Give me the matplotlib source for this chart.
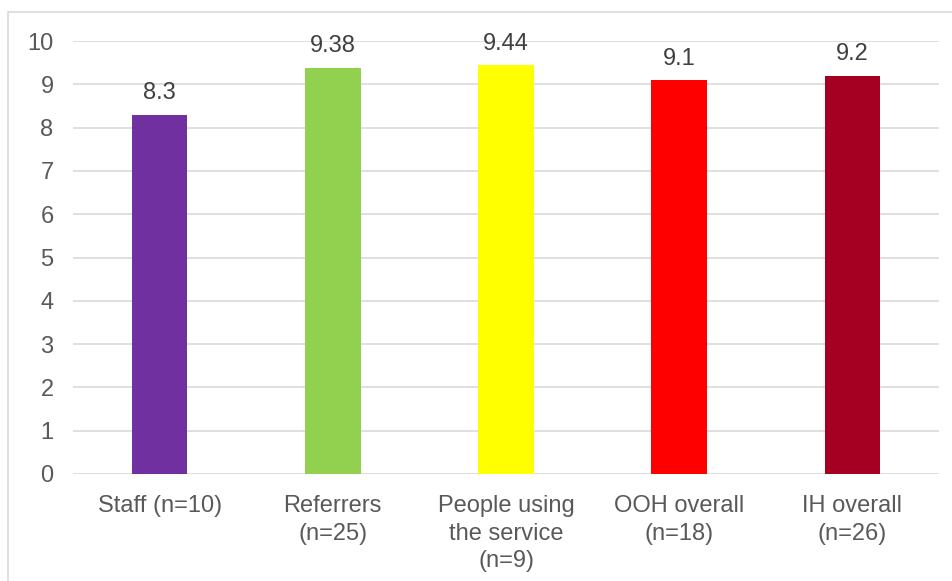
import matplotlib.pyplot as plt
from matplotlib.patches import Rectangle

# datos del gráfico
categorias = ["Staff (n=10)", "Referrers\n(n=25)", "People using\nthe service\n(n=9)",
              "OOH overall\n(n=18)", "IH overall\n(n=26)"]
valores = [8.3, 9.38, 9.44, 9.1, 9.2]
etiquetas = ["8.3", "9.38", "9.44", "9.1", "9.2"]
colores = ["#7030A0", "#92D050", "#FFFF00", "#FF0000", "#A50021"]

plt.rcParams['font.family'] = ['Liberation Sans', 'DejaVu Sans']
gris = "#595959"
fs = 17

fig = plt.figure(figsize=(9.52, 5.81), dpi=100)
# marco exterior
fig.patches.append(Rectangle((8 / 952, -0.1), 1.0, 1 - 12 / 581 + 0.1, transform=fig.transFigure,
                             fill=False, edgecolor="#D9D9D9", linewidth=1.2))
ax = fig.add_axes([73 / 952, 1 - 474 / 581, (939 - 73) / 952, (474 - 41) / 581])

x = range(len(categorias))
barras = ax.bar(x, valores, width=0.32, color=colores, zorder=3)

for xi, v, t in zip(x, valores, etiquetas):
    ax.text(xi, v + 0.24, t, ha='center', va='bottom', fontsize=fs, color="#404040")

ax.set_ylim(0, 10)
ax.set_xlim(-0.5, len(categorias) - 0.5)
ax.set_yticks(range(0, 11))
ax.set_xticks(list(x))
ax.set_xticklabels(categorias, fontsize=fs, color=gris, linespacing=1.34, va='top')
ax.tick_params(axis='y', labelsize=fs, labelcolor=gris, length=0, pad=14)
ax.tick_params(axis='x', length=0, pad=15)
ax.grid(axis='y', color="#D9D9D9", linewidth=1.2, zorder=0)
for s in ax.spines.values():
    s.set_visible(False)

fig.savefig("out.png", dpi=100)
